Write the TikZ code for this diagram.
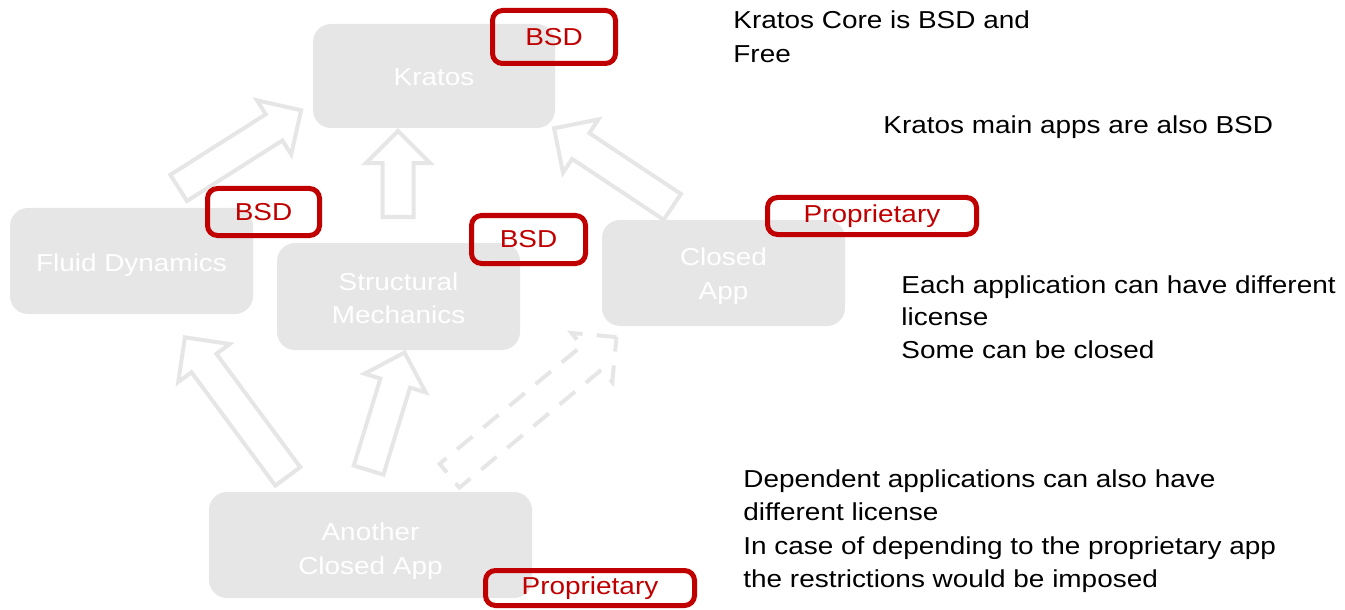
\documentclass[tikz,border=0pt]{standalone}
\usepackage{fontspec}
\setmainfont{Liberation Sans}[FakeStretch=1.14]
\usetikzlibrary{shapes.arrows}
\definecolor{appgray}{HTML}{E6E6E6}
\definecolor{licred}{HTML}{C00000}
\def\appw{121.5pt}
\def\apph{53pt}
\tikzset{
    app/.style = {fill=appgray, rounded corners=9pt, text=white, align=center, inner sep=0pt,
        minimum width=\appw, minimum height=\apph, font=\fontsize{12.25pt}{16.75pt}\selectfont},
    drop/.style = {execute at begin node={\rule{0pt}{#1}}},
    license/.style = {draw=licred, line width=2.5pt, rounded corners=5pt, text=licred, inner sep=0pt,
        font=\fontsize{12.25pt}{15pt}\selectfont},
    note/.style = {anchor=north west, align=left, inner sep=0pt, font=\fontsize{12.25pt}{16.6pt}\selectfont},
    uses/.style = {single arrow, draw=appgray, line width=2pt, inner xsep=0pt, inner ysep=6.75pt,
        minimum width=0pt, single arrow head extend=8.25pt, anchor=tail}
}

\begin{document}
\begin{tikzpicture}[x=0.5pt, y=-0.5pt]
        \useasboundingbox (0,0) rectangle (1345,610);

        % draw application boxes
        \node[app, minimum width=121pt, minimum height=52pt, drop=9.5pt] (kratos) at (434,76) {Kratos};
        \node[app, drop=13pt] (fluid) at (131.5,261) {Fluid Dynamics};
        \node[app, minimum height=53.5pt, drop=27.5pt] (struct) at (398.5,296.5) {Structural\\Mechanics};
        \node[app, drop=28.6pt] (closed) at (723.5,273) {Closed\\App};
        \node[app, minimum width=161.5pt, drop=31.6pt] (another) at (370.5,545) {Another\\Closed App};

        % draw dependency arrows (placed by their tails)
        \node[uses, minimum height=72.5pt, rotate=32.4] (fluid-kratos) at (177,189) {};
        \node[uses, minimum height=43pt, rotate=90] (struct-kratos) at (398,219) {};
        \node[uses, minimum height=71pt, rotate=146.4] (closed-kratos) at (674,208) {};
        \node[uses, minimum height=86.5pt, rotate=126.5] (another-fluid) at (289,478) {};
        \node[uses, minimum height=61.5pt, rotate=73] (another-struct) at (368,472) {};
        \node[uses, minimum height=108.5pt, rotate=39.7, dash pattern=on 10pt off 7pt] (another-closed) at (448,477) {};

        % draw license labels
        \node[license, minimum width=61.5pt, minimum height=26.5pt] (kratos-lic) at (554,37) {BSD};
        \node[license, minimum width=56pt, minimum height=23.5pt] (fluid-lic) at (263.5,212) {BSD};
        \node[license, minimum width=57pt, minimum height=24pt] (struct-lic) at (528.5,239.5) {BSD};
        \node[license, minimum width=104.5pt, minimum height=18.5pt] (closed-lic) at (872,216) {Proprietary};
        \node[license, minimum width=104.5pt, minimum height=17.5pt] (another-lic) at (590,588) {Proprietary};

        % notes on the right
        \node[note, font=\fontsize{12.25pt}{17.25pt}\selectfont] (note-core) at (733,10) {Kratos Core is BSD and\\Free};
        \node[note] (note-main) at (883,115) {Kratos main apps are also BSD};
        \node[note, font=\fontsize{12.25pt}{16.25pt}\selectfont] (note-apps) at (901,275) {Each application can have different\\license\\Some can be closed};
        \node[note] (note-dep) at (743,469.5) {Dependent applications can also have\\different license\\In case of depending to the proprietary app\\the restrictions would be imposed};

    \end{tikzpicture}
\end{document}
